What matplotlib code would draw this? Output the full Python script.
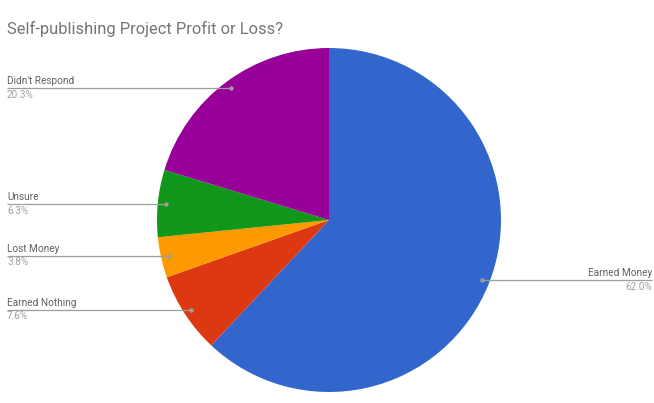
import numpy as np
import matplotlib
matplotlib.use('Agg')
import matplotlib.pyplot as plt

# data
labels = ['Earned Money', 'Earned Nothing', 'Lost Money', 'Unsure', "Didn't Respond"]
shares = [62.0, 7.6, 3.8, 6.3, 20.3]
colors = ['#3366CC', '#DC3912', '#FF9900', '#109618', '#990099']
title = 'Self-publishing Project Profit or Loss?'

W, H = 654, 403
fig = plt.figure(figsize=(W / 100, H / 100), dpi=100)
ax = fig.add_axes([0, 0, 1, 1])

cx, cy, R = 329, H - 220, 172
ax.pie(shares, colors=colors, startangle=90, counterclock=False,
       center=(cx, cy), radius=R, frame=True,
       wedgeprops=dict(linewidth=0))
ax.set_xlim(0, W)
ax.set_ylim(0, H)
ax.set_aspect('equal')
ax.axis('off')

plt.rcParams['font.family'] = ['Roboto', 'DejaVu Sans']
fig.text(7 / W, 1 - 29 / H, title, fontsize=11.9, color='#757575',
         va='center', ha='left')

# leader lines to the side labels
total = sum(shares)
cum = 0.0
for lab, v in zip(labels, shares):
    mid = (cum + v / 2) / total
    cum += v
    ang = np.deg2rad(90 - 360 * mid)
    px = cx + 0.955 * R * np.cos(ang)
    py = cy + 0.955 * R * np.sin(ang)
    if px > cx:
        x_end = 652
        ha = 'right'
    else:
        x_end = 7
        ha = 'left'
    ax.plot([px, x_end], [py, py], color='#9e9e9e', lw=0.9, solid_capstyle='butt')
    ax.plot(px, py, 'o', color='#9e9e9e', ms=2.2)
    ax.text(x_end, py + 2, lab, ha=ha, va='bottom', fontsize=7.2, color='#616161')
    ax.text(x_end, py - 1.5, '%.1f%%' % v, ha=ha, va='top', fontsize=7.2, color='#a0a0a0')

plt.savefig('out.png', dpi=100)
